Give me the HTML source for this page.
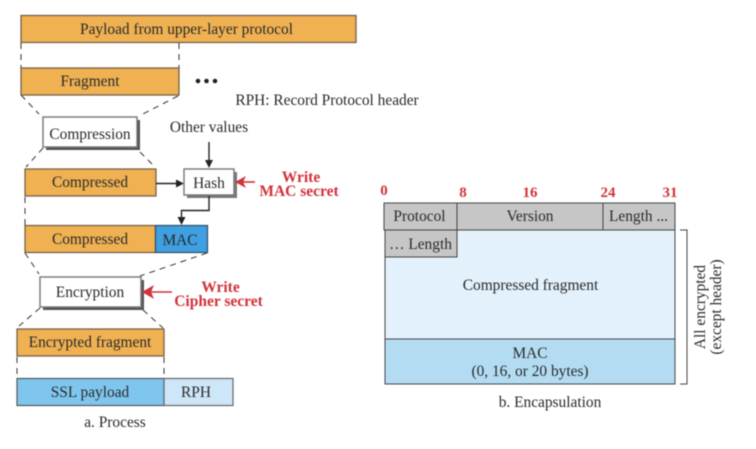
<!DOCTYPE html>
<html><head><meta charset="utf-8"><style>
html,body{margin:0;padding:0;background:#fff}
svg{display:block;filter:blur(.45px)}
text{font-family:"Liberation Serif",serif;font-size:15.4px;fill:#2a2a2a;text-anchor:middle}
.r{font-weight:bold;fill:#d2323a;font-size:15.5px}
.n{font-weight:bold;fill:#d2323a;font-size:15px}
.o{fill:#efb152;stroke:#6b5a45;stroke-width:1.2}
.d{stroke:#333;stroke-width:1;stroke-dasharray:6 5;fill:none}
.w{fill:#fff;stroke:#777;stroke-width:1.4}
.g{fill:#c6c6c6;stroke:#444;stroke-width:1}
.l{stroke:#222;stroke-width:1.4;fill:none}
</style></head><body>
<svg width="756" height="449" viewBox="0 0 756 449" xmlns="http://www.w3.org/2000/svg">
<rect width="756" height="449" fill="#fff"/>
<!-- dashed -->
<path class="d" d="M21 43V68M179 43V68M21 95L39 114M178 96L139 116M43 148L26 167M140 152L155 167M25 197V225M25 253L39 274M207 253L140 276M40 308L19 326M143 310L163 328M17 357V378M164 357V378"/>
<!-- process boxes -->
<rect class="o" x="21" y="15.500" width="335" height="27"/>
<text x="186.500" y="34">Payload from upper-layer protocol</text>
<rect class="o" x="21" y="68" width="158" height="27"/>
<text x="90" y="86">Fragment</text>
<circle cx="198" cy="81" r="2.300" fill="#222"/><circle cx="206.500" cy="81" r="2.300" fill="#222"/><circle cx="215" cy="81" r="2.300" fill="#222"/>
<text x="327" y="105">RPH: Record Protocol header</text>
<rect x="46" y="120" width="94" height="30" fill="#555"/>
<rect class="w" x="43" y="117" width="94" height="30"/>
<text x="90" y="139">Compression</text>
<text x="209" y="132">Other values</text>
<path class="l" d="M209 142V162"/><path d="M205 160h8l-4 8z" fill="#222"/>
<rect class="o" x="25" y="169" width="131" height="27"/>
<text x="90" y="187">Compressed</text>
<path class="l" d="M156 183.500H178"/><path d="M176 179.500v8l8-4z" fill="#222"/>
<rect x="187" y="172" width="50" height="26" fill="#777"/>
<rect class="w" x="184" y="169" width="50" height="26"/>
<text x="209" y="188">Hash</text>
<path class="l" d="M209 196V210.500H181.500V218"/><path d="M177.500 217h8l-4 8z" fill="#222"/>
<path d="M255 182H242" stroke="#d2323a" stroke-width="1.600"/><path d="M235 182l11-6-3 6 3 6z" fill="#d2323a"/>
<text class="r" x="301" y="182">Write</text>
<text class="r" x="299" y="196">MAC secret</text>
<rect class="o" x="25" y="225.500" width="130.500" height="27"/>
<text x="90" y="244">Compressed</text>
<rect x="155.500" y="225.500" width="52" height="27" fill="#3f9fe0" stroke="#2f4d66" stroke-width="1.200"/>
<text x="180" y="245">MAC</text>
<rect x="43" y="280" width="101" height="30" fill="#555"/>
<rect class="w" x="40" y="277" width="101" height="30"/>
<text x="90" y="297">Encryption</text>
<path d="M172 292H150" stroke="#d2323a" stroke-width="1.600"/><path d="M142 292l12-7-3 7 3 7z" fill="#d2323a"/>
<text class="r" x="220.500" y="292">Write</text>
<text class="r" x="218.500" y="306">Cipher secret</text>
<rect class="o" x="17" y="329" width="147" height="27"/>
<text x="90" y="347">Encrypted fragment</text>
<rect x="17" y="378.500" width="147" height="27" fill="#7fc6ef" stroke="#555" stroke-width="1.200"/>
<text x="90" y="397">SSL payload</text>
<rect x="164" y="378.500" width="69" height="27" fill="#cde6f8" stroke="#666" stroke-width="1.200"/>
<text x="196" y="397">RPH</text>
<text x="115" y="427">a. Process</text>
<!-- encapsulation -->
<text class="n" x="384" y="195">0</text>
<text class="n" x="463" y="197">8</text>
<text class="n" x="530" y="197">16</text>
<text class="n" x="608" y="197">24</text>
<text class="n" x="670" y="197">31</text>
<rect x="385" y="230" width="290" height="109" fill="#e2f1fc" stroke="#444"/>
<rect x="385" y="339" width="290" height="45" fill="#b3dcf3" stroke="#444"/>
<rect class="g" x="384" y="203" width="73" height="27"/>
<rect class="g" x="457" y="203" width="146" height="27"/>
<rect class="g" x="603" y="203" width="72" height="27"/>
<rect class="g" x="385" y="230" width="72" height="27"/>
<text x="419.500" y="221">Protocol</text>
<text x="530" y="221">Version</text>
<text x="638.500" y="221">Length ...</text>
<text x="420.500" y="249">… Length</text>
<text x="530.500" y="290">Compressed fragment</text>
<text x="530" y="358">MAC</text>
<text x="530" y="376">(0, 16, or 20 bytes)</text>
<text x="550" y="407">b. Encapsulation</text>
<path d="M680 230H687V384H680" stroke="#444" stroke-width="1" fill="none"/>
<text transform="translate(705,307) rotate(-90)">All encrypted</text>
<text transform="translate(721,307) rotate(-90)">(except header)</text>
</svg>
</body></html>
